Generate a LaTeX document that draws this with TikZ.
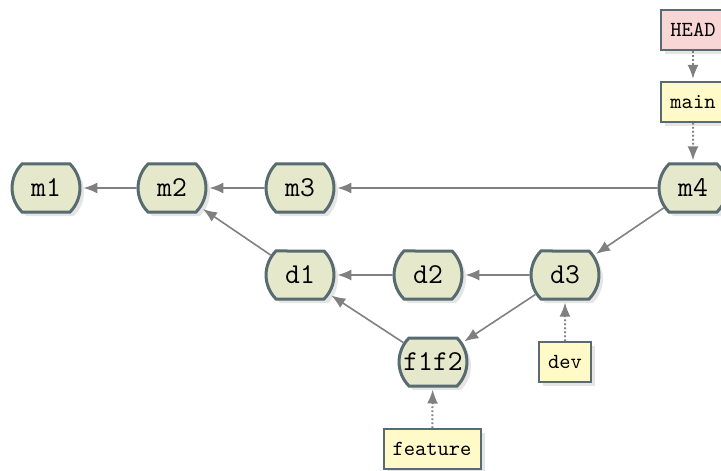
\documentclass[tikz,border=0pt]{standalone}
\usepackage{tikz}
\usetikzlibrary{arrows.meta,shapes.misc,shadows}

\definecolor{commitfill}{RGB}{230,232,204}
\definecolor{nodeline}{RGB}{87,107,112}
\definecolor{branchfill}{RGB}{255,250,200}
\definecolor{headfill}{RGB}{248,214,214}
\definecolor{edgegray}{RGB}{128,128,128}

\begin{document}
\begin{tikzpicture}[x=0.5pt,y=-0.5pt,
            commit/.style={draw=nodeline,fill=commitfill,line width=1.5pt,rounded rectangle,rounded rectangle arc length=90,minimum width=35pt,minimum height=24pt,inner xsep=1pt,font=\fontsize{14.4}{17}\selectfont\ttfamily,drop shadow={shadow xshift=2pt,shadow yshift=-2pt,fill=black!10,opacity=1}},
            branch/.style={draw=nodeline,fill=branchfill,line width=1pt,rectangle,minimum height=20pt,inner xsep=4.5pt,font=\fontsize{10.75}{13}\selectfont\ttfamily,drop shadow={shadow xshift=2pt,shadow yshift=-2pt,fill=black!10,opacity=1}},
            head/.style={branch,fill=headfill},
            parent/.style={draw=edgegray,line width=0.8pt,shorten >=1pt,-{Latex[length=7pt,width=5.5pt]}},
            ref/.style={parent,dash pattern=on 0.8pt off 1.2pt,line width=1pt}
          ]
          \useasboundingbox (0,0) rectangle (721,470);

          \node[commit] (m1) at (46,188) {m1};
          \node[commit] (m2) at (172,188) {m2};
          \node[commit] (m3) at (300,188) {m3};
          \node[commit] (m4) at (693,188) {m4};
          \node[commit] (d1) at (300,275) {d1};
          \node[commit] (d2) at (428,275) {d2};
          \node[commit] (d3) at (565,275) {d3};
          \node[commit] (f1f2) at (433,362) {f1f2};

          %labels
          \node[head] (head) at (693,30) {HEAD};
          \node[branch] (main) at (693,102) {main};
          \node[branch] (dev) at (565,362) {dev};
          \node[branch] (feature) at (432,449) {feature};

          \draw[parent] (m2) -- (m1);
          \draw[parent] (m3) -- (m2);
          \draw[parent] (m4) -- (m3);
          \draw[parent] (d1) -- (m2);
          \draw[parent] (d2) -- (d1);
          \draw[parent] (d3) -- (d2);
          \draw[parent] (m4) -- (d3);
          \draw[parent] (f1f2) -- (d1);
          \draw[parent] (d3) -- (f1f2);

          \draw[ref] (head) -- (main);
          \draw[ref] (main) -- (m4);
          \draw[ref] (dev) -- (d3);
          \draw[ref] (feature) -- (f1f2);
      \end{tikzpicture}
\end{document}
